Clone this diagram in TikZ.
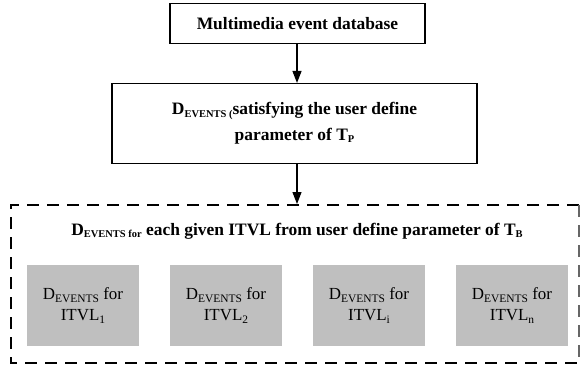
\documentclass[tikz,border=0pt]{standalone}
\usepackage{fontspec}
\setmainfont{Liberation Serif}
\usetikzlibrary{arrows.meta}
% small subscript at a fixed size
\newcommand{\lowidx}[2]{\raisebox{-0.28ex}{\fontsize{#1}{#1}\selectfont #2}}
\begin{document}
\begin{tikzpicture}[x=1bp,y=-1bp,
  flowbox/.style={draw=black,line width=1.1bp,align=center,font=\bfseries\fontsize{17.5}{26}\selectfont,inner sep=0pt},
  itvlbox/.style={fill=black!25,minimum width=112bp,minimum height=81bp,align=center,inner sep=0pt,font=\fontsize{17}{21}\selectfont},
  flowarrow/.style={draw,line width=1.1bp,-{Triangle[length=12bp,width=9bp]}},
  groupline/.style={line width=2.6bp,dash pattern=on 12bp off 8bp}]
\useasboundingbox (0,0) rectangle (582,371);
% top box
\node[flowbox,minimum width=255bp,minimum height=40bp] (db) at (297.5,23.5) {Multimedia event database};
% second box
\node[flowbox,minimum width=365bp,minimum height=80bp] (sel) at (294.5,123.5)
  {D\lowidx{10.5}{EVENTS (}satisfying the user define\\parameter of T\lowidx{10.5}{P}};
% dashed container
\draw[groupline] (579,205) -- (11,205) -- (11,363) -- (579,363);
\draw[line width=1.4bp,black!60,dash pattern=on 12bp off 8bp] (579,205) -- (579,363);
\coordinate (grp) at (297,204);
\node[font=\bfseries\fontsize{17.5}{21}\selectfont] (head) at (297,231)
  {D\lowidx{10.5}{EVENTS for} each given ITVL from user define parameter of T\lowidx{10.5}{B}};
% interval boxes
\node[itvlbox] (i1) at (83,305.5) {D\lowidx{11.5}{EVENTS} for\\ITVL\lowidx{11.5}{1}};
\node[itvlbox] (i2) at (226,305.5) {D\lowidx{11.5}{EVENTS} for\\ITVL\lowidx{11.5}{2}};
\node[itvlbox] (i3) at (369,305.5) {D\lowidx{11.5}{EVENTS} for\\ITVL\lowidx{11.5}{i}};
\node[itvlbox] (i4) at (512,305.5) {D\lowidx{11.5}{EVENTS} for\\ITVL\lowidx{11.5}{n}};
% connectors, both on the same vertical line
\draw[flowarrow] (db.south -| grp) -- (sel.north -| grp);
\draw[flowarrow] (sel.south -| grp) -- (grp);
\end{tikzpicture}
\end{document}
